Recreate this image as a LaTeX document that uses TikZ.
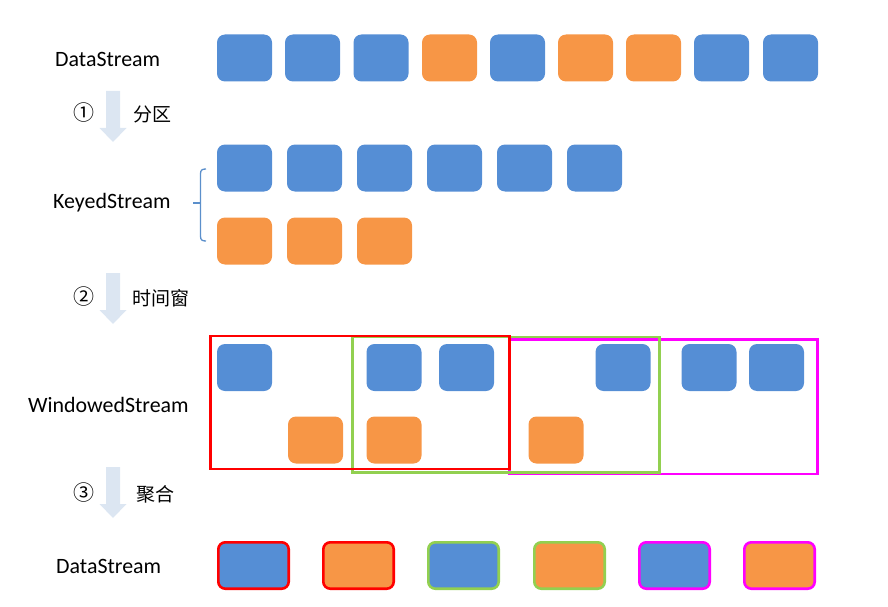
\documentclass[tikz,border=0pt]{standalone}
\usepackage{fontspec}
\setmainfont{Carlito}
\newfontfamily\cjk{Noto Sans CJK SC}
\definecolor{bl}{HTML}{558ED5}
\definecolor{or}{HTML}{F79646}
\definecolor{wred}{HTML}{FF0000}
\definecolor{wgreen}{HTML}{92D050}
\definecolor{wmag}{HTML}{FF00FF}
\definecolor{arr}{HTML}{DCE6F2}
\definecolor{brc}{HTML}{5B8FCB}
\begin{document}
\begin{tikzpicture}[x=1pt,y=-1pt,
  cell/.style={draw=none, rounded corners=8pt, minimum width=55pt, minimum height=47pt, inner sep=0pt},
  bcell/.style={cell, fill=bl},
  ocell/.style={cell, fill=or},
  res/.style={rounded corners=7pt, line width=2.6pt, minimum width=70.4pt, minimum height=46.4pt, inner sep=0pt},
  lbl/.style={font=\fontsize{21.9}{24}\selectfont, anchor=west, inner sep=0pt},
  step lbl/.style={font=\cjk\fontsize{19}{22}\selectfont, anchor=west, inner sep=0pt},
  num/.style={font=\cjk\fontsize{21}{22}\selectfont, inner sep=0pt},
  blockarrow/.style={fill=arr, draw=none},
  win/.style={line width=2.7pt}
]
\useasboundingbox (0,0) rectangle (888,607);

% labels
\node[lbl] (l1) at (55,59) {DataStream};
\node[lbl] (l2) at (53,203) {KeyedStream};
\node[lbl] (l3) at (28,405) {WindowedStream};
\node[lbl] (l4) at (56,566) {DataStream};

% step arrows
\fill[blockarrow] (106,91) -- (120,91) -- (120,128) -- (126.5,128) -- (113,142) -- (99.5,128) -- (106,128) -- cycle;
\fill[blockarrow] (106,273) -- (120,273) -- (120,310) -- (126.5,310) -- (113,324) -- (99.5,310) -- (106,310) -- cycle;
\fill[blockarrow] (106,467) -- (120,467) -- (120,504) -- (126.5,504) -- (113,518) -- (99.5,504) -- (106,504) -- cycle;
\node[num] (n1) at (84,113) {①};
\node[num] (n2) at (84,297) {②};
\node[num] (n3) at (84,493) {③};
\node[step lbl] (s1) at (133,114) {分区};
\node[step lbl] (s2) at (132.5,298) {时间窗};
\node[step lbl] (s3) at (136.5,494) {聚合};

% top DataStream
\node[bcell] (d1) at (244.5,58) {};
\node[bcell] (d2) at (312.5,58) {};
\node[bcell] (d3) at (381,58) {};
\node[ocell] (d4) at (449.5,58) {};
\node[bcell] (d5) at (517.5,58) {};
\node[ocell] (d6) at (585.5,58) {};
\node[ocell] (d7) at (653.5,58) {};
\node[bcell] (d8) at (721.5,58) {};
\node[bcell] (d9) at (790.5,58) {};

% KeyedStream
\draw[brc, line width=1.3pt] (206,169) .. controls (202,169) and (200.5,170) .. (200.5,174) -- (200.5,236) .. controls (200.5,240) and (202,241) .. (206,241);
\draw[brc, line width=1.3pt] (193,203) -- (200.5,203);
\node[bcell] (k1) at (244.5,168) {};
\node[bcell] (k2) at (314.5,168) {};
\node[bcell] (k3) at (384.5,168) {};
\node[bcell] (k4) at (454.5,168) {};
\node[bcell] (k5) at (524.5,168) {};
\node[bcell] (k6) at (594.5,168) {};
\node[ocell] (k7) at (244.5,241) {};
\node[ocell] (k8) at (314.5,241) {};
\node[ocell] (k9) at (384.5,241) {};

% WindowedStream
\node[bcell] (w1) at (244.5,367.5) {};
\node[bcell] (w2) at (394,367.5) {};
\node[bcell] (w3) at (466.5,367.5) {};
\node[bcell] (w4) at (623,367.5) {};
\node[bcell] (w5) at (709,367.5) {};
\node[bcell] (w6) at (776.5,367.5) {};
\node[ocell] (w7) at (315.5,440) {};
\node[ocell] (w8) at (394,440) {};
\node[ocell] (w9) at (556,440) {};
\draw[win, wmag] (509.5,339.7) rectangle (817.2,474);
\draw[win, wgreen] (352.8,337) rectangle (659.5,472.2);
\draw[win, wred] (210.8,336) rectangle (509.5,469);

% result DataStream
\node[res, fill=bl, draw=wred] (r1) at (253.5,565.5) {};
\node[res, fill=or, draw=wred] (r2) at (358.5,565.5) {};
\node[res, fill=bl, draw=wgreen] (r3) at (463.5,565.5) {};
\node[res, fill=or, draw=wgreen] (r4) at (569.5,565.5) {};
\node[res, fill=bl, draw=wmag] (r5) at (674.5,565.5) {};
\node[res, fill=or, draw=wmag] (r6) at (779.5,565.5) {};
\end{tikzpicture}
\end{document}
